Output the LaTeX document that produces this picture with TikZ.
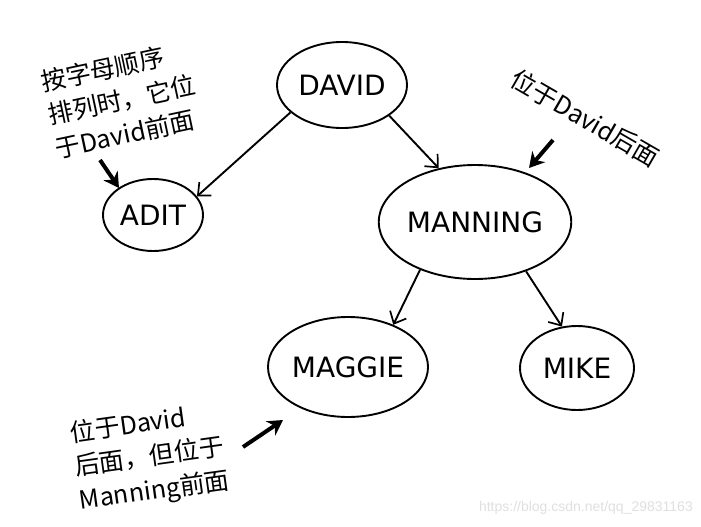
\documentclass[tikz,border=0pt]{standalone}
\usepackage{fontspec}
\setmainfont{DejaVu Sans}
\newfontfamily\cjk{Noto Sans CJK SC}
\newfontfamily\wmfont{Liberation Sans}
\usetikzlibrary{shapes.geometric,arrows.meta}
\begin{document}
\begin{tikzpicture}[x=1pt,y=-1pt,
 treenode/.style={draw, ellipse, line width=1.9pt, inner sep=0pt, font=\fontsize{28}{28}\selectfont},
 edge/.style={line width=1.9pt, -{Straight Barb[length=10pt,width=18pt,line width=1.7pt]}},
 note/.style={font=\cjk\fontsize{25}{34}\selectfont, align=left, inner sep=0pt},
 pointer/.style={line width=4pt, -{Stealth[length=15pt,width=17pt]}},
]
\useasboundingbox (0,0) rectangle (701,527);
\fill[white] (0,0) rectangle (701,527);

\node[treenode, minimum width=130pt, minimum height=86pt] (david) at (342,85) {DAVID};
\node[treenode, minimum width=100pt, minimum height=72pt] (adit) at (153,215) {ADIT};
\node[treenode, minimum width=190pt, minimum height=114pt] (manning) at (475,222) {MANNING};
\node[treenode, minimum width=160pt, minimum height=100pt] (maggie) at (348,367) {MAGGIE};
\node[treenode, minimum width=114pt, minimum height=84pt] (mike) at (577,368) {MIKE};

\draw[edge] (david.-152) -- (adit.23);
\draw[edge] (david.-33) -- (manning.124);
\draw[edge] (manning.-139) -- (maggie.43);
\draw[edge] (manning.-44) -- (mike.110);

\node[note, rotate=12] (n1) at (122,100) {按字母顺序\\排列时，它位\\于David前面};
\node[note, rotate=-30] (n2) at (585,118) {位于David后面};
\node[note, rotate=8] (n3) at (150,458) {位于David\\后面，但位于\\Manning前面};

\coordinate (p1s) at (100,160); \coordinate (p1e) at (119,188);
\coordinate (p2s) at (553,140); \coordinate (p2e) at (529,168);
\coordinate (p3s) at (243,447); \coordinate (p3e) at (283,420);
\draw[pointer] (p1s) -- (p1e);
\draw[pointer] (p2s) -- (p2e);
\draw[pointer] (p3s) -- (p3e);

\node[font=\wmfont\fontsize{14}{14}\selectfont, text=black!12, anchor=east, inner sep=0pt] (wm) at (693,508) {https://blog.csdn.net/qq\_29831163};
\end{tikzpicture}
\end{document}
